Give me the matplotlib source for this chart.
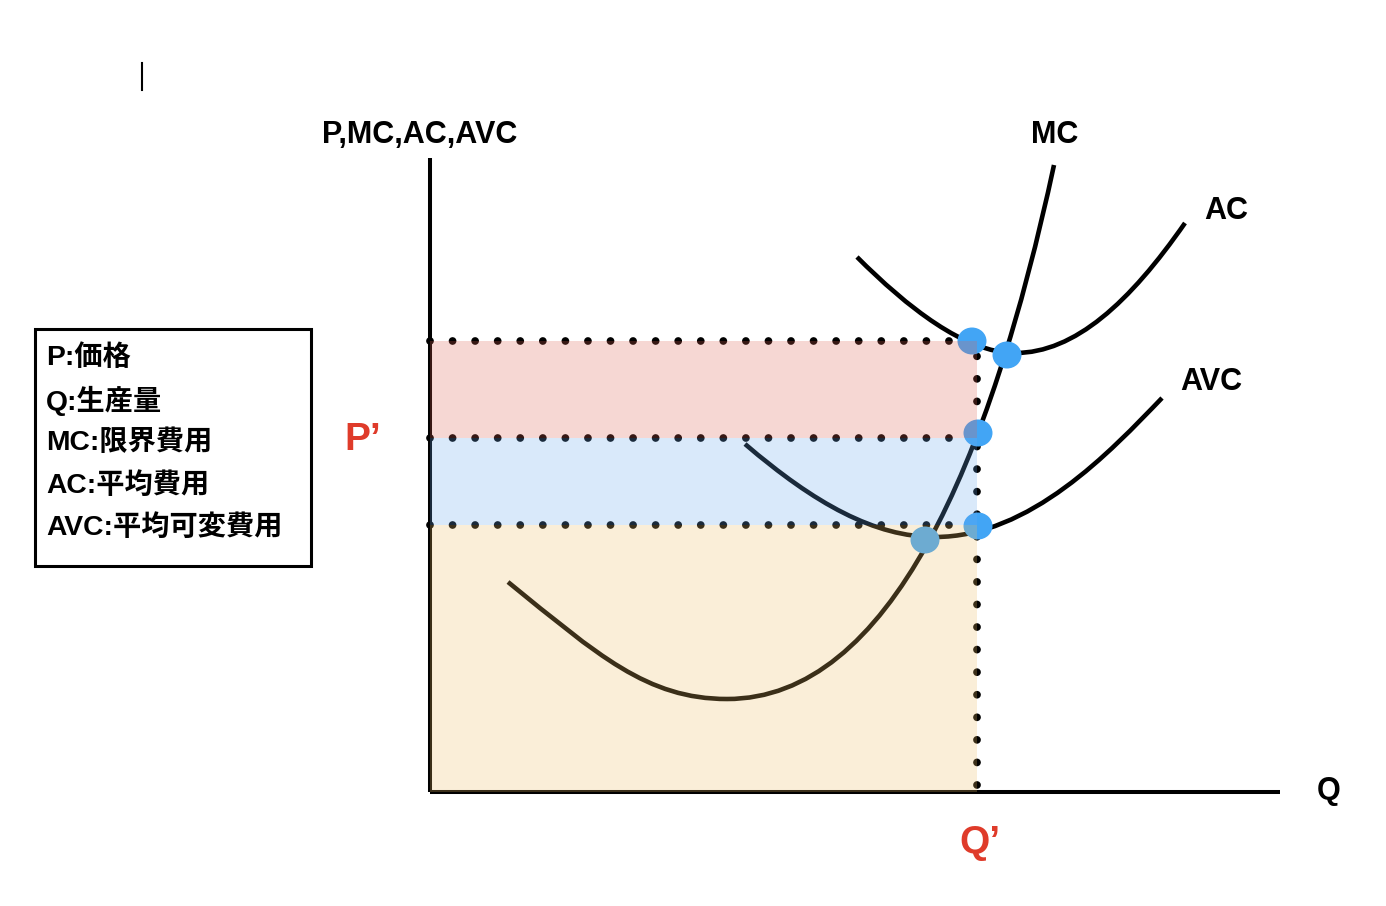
"""Cost curves diagram: MC, AC, AVC with price/quantity areas."""

import matplotlib

matplotlib.use("Agg")
import matplotlib.pyplot as plt
from matplotlib.patches import Ellipse, PathPatch, Rectangle
from matplotlib.path import Path

plt.rcParams["font.family"] = ["Liberation Sans", "Noto Sans CJK JP", "DejaVu Sans"]

# curves as cubic Bezier control points, in diagram units
# (Q to the right, P upward; origin at the axis corner)
mc_q = [78, 168, 217, 297, 460, 560, 624]
mc_p = [210, 137, 93, 93, 93, 330, 627]

ac_q = [427, 477, 535, 585, 645, 700, 755]
ac_p = [535, 485, 439, 439, 439, 490, 569]

avc_q = [315, 385, 445, 505, 600, 680, 732]
avc_p = [348, 288, 255, 255, 255, 340, 394]

# intersection markers
dot_q = [542, 577, 548, 548, 495]
dot_p = [451, 437, 359, 266, 252]

# output and price levels
q_star = 547
p_ac = 451
p_star = 354
p_avc = 267
q_max = 850
p_max = 634

legend_lines = ["P:価格", "Q:生産量", "MC:限界費用", "AC:平均費用", "AVC:平均可変費用"]

fig = plt.figure(figsize=(13.86, 9.06), dpi=100)
ax = fig.add_axes([0, 0, 1, 1])
ax.set_xlim(-430, 956)
ax.set_ylim(-114, 792)
ax.axis("off")

# axes of the diagram
ax.plot([0, 0], [0, p_max], color="black", lw=2.9, solid_capstyle="butt", zorder=2)
ax.plot([0, q_max], [0, 0], color="black", lw=2.9, solid_capstyle="butt", zorder=2)

# curves
for xs, ys in [(mc_q, mc_p), (ac_q, ac_p), (avc_q, avc_p)]:
    codes = [Path.MOVETO] + [Path.CURVE4] * (len(xs) - 1)
    path = Path(list(zip(xs, ys)), codes)
    ax.add_patch(PathPatch(path, facecolor="none", edgecolor="black", lw=3.3, capstyle="butt", zorder=2))

# dotted guides
dotted = dict(color="black", lw=5.6, dash_capstyle="round", zorder=2)
for level in [p_ac, p_star, p_avc]:
    ax.plot([0, q_star], [level, level], linestyle=(0, (0.001, 2.9)), **dotted)
ax.plot([q_star, q_star], [0, p_ac], linestyle=(2.0, (0.001, 2.9)), **dotted)

# intersection markers
for q, p in zip(dot_q, dot_p):
    ax.add_patch(Ellipse((q, p), 29, 27, facecolor="#42a5f5", edgecolor="none", zorder=3))

# shaded areas (translucent, drawn over the lines)
ax.add_patch(Rectangle((0, p_star), q_star, p_ac - p_star, facecolor="#df6353", alpha=0.25, edgecolor="none", zorder=4))
ax.add_patch(Rectangle((0, p_avc), q_star, p_star - p_avc, facecolor="#6babef", alpha=0.25, edgecolor="none", zorder=4))
ax.add_patch(Rectangle((0, 0), q_star, p_avc, facecolor="#efbf67", alpha=0.25, edgecolor="none", zorder=4))

# labels
label = dict(fontsize=22, fontweight="bold", color="black", ha="center", va="center", zorder=5)
ax.text(-10, 657, "P,MC,AC,AVC", **label)
ax.text(625, 657, "MC", **label)
ax.text(796, 581, "AC", **label)
ax.text(781, 410, "AVC", **label)
ax.text(899, 1, "Q", **label)
red = dict(fontsize=28, fontweight="bold", color="#df3b2a", ha="center", va="center", zorder=5)
ax.text(-67, 352, "P’", **red)
ax.text(550, -51, "Q’", **red)

# legend box
ax.add_patch(Rectangle((-395, 226), 276, 237, facecolor="none", edgecolor="black", lw=2.2, zorder=5))
for i, line in enumerate(legend_lines):
    ax.text(-384, 434 - i * 42.5, line, fontsize=20.3, fontweight="bold", color="black",
            ha="left", va="center", zorder=5)

# stray cursor mark
ax.plot([-288, -288], [702, 729], color="black", lw=1.5, zorder=5)

fig.savefig("out.png", dpi=100, facecolor="white")
